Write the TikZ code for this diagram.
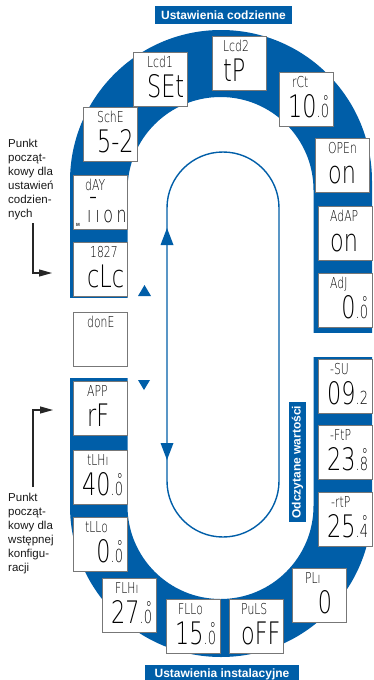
\documentclass[tikz,border=0pt]{standalone}
\usepackage{fontspec}
\newfontfamily\arial{Liberation Sans}
\newfontfamily\lcdfont{DejaVuSans-ExtraLight.ttf}[FakeStretch=0.72]
\usetikzlibrary{arrows.meta}
\definecolor{dblue}{HTML}{005EA8}
\definecolor{boxgray}{HTML}{777777}
\newcommand\lcdS{\lcdfont\fontsize{15}{15}\selectfont}
\newcommand\lcdB{\lcdfont\fontsize{31}{31}\selectfont}
\newcommand\lcdM{\lcdfont\fontsize{18}{18}\selectfont}
\newcommand\lcdnum[3]{{\lcdB #1}{\lcdM .#2\llap{\raisebox{9pt}{#3}}}}
\newcommand\lcdbox[5]{%
  \node[lcd] (#1) at (#2,#3) {};
  \node[lcdlab] (#1l) at ([shift={(#5,15)}]#1.north west) {#4};
}
\begin{document}
\begin{tikzpicture}[x=1pt,y=-1pt,
  lcd/.style={draw=boxgray, line width=1.2pt, fill=white, minimum width=54pt, minimum height=54pt, inner sep=0pt, anchor=north west},
  lcdlab/.style={font=\lcdS, inner sep=0pt, anchor=base west, text=black},
  lcdval/.style={font=\lcdB, inner sep=0pt, text=black},
  banner/.style={fill=dblue, text=white, font=\arial\bfseries\fontsize{12}{12}\selectfont, inner sep=0pt},
  sidelab/.style={font=\arial\fontsize{11.5}{14}\selectfont, align=left, inner sep=0pt, anchor=north west, text=black!90},
  pointer/.style={draw=black!85, line width=1.1pt, -{Triangle[length=13pt,width=7pt]}},
  track/.style={draw=dblue, line width=1.4pt}
]
\fill[white] (0,0) rectangle (373,680);
\useasboundingbox (0,0) rectangle (373,680);
% blue ring
\fill[dblue, even odd rule]
  (70,506) -- (70,181) arc[start angle=180,end angle=360,radius=151] -- (372,506) arc[start angle=0,end angle=180,radius=151] -- cycle
  (127.5,506) -- (127.5,190) arc[start angle=180,end angle=360,radius=93] -- (313.5,506) arc[start angle=0,end angle=180,radius=93] -- cycle;
\fill[white] (60,298) rectangle (136,378);
\fill[white] (305,333) rectangle (380,357);
% flow track
\draw[track] (167,481) -- (167,208) arc[start angle=180,end angle=360,radius=56] -- (279,481) arc[start angle=0,end angle=180,radius=56] -- cycle;
\fill[dblue] (160.5,245) -- (167,228) -- (173.5,245) -- cycle;
\fill[dblue] (160.5,443) -- (167,460) -- (173.5,443) -- cycle;
\fill[dblue] (138,296) -- (144.5,285) -- (151,296) -- cycle;
\fill[dblue] (138,380) -- (144,390) -- (150,380) -- cycle;
% banners
\node[banner, minimum width=137pt, minimum height=18pt] (t1) at (223.5,15) {Ustawienia codzienne};
\node[banner, minimum width=154pt, minimum height=19pt] (t2) at (222,674.5) {Ustawienia instalacyjne};
\node[banner, rotate=90, minimum width=120pt, minimum height=17pt] (t3) at (297.5,462) {Odczytane wartości};
% boxes
\lcdbox{b1}{133}{52}{Lcd1}{14}
\node[lcdval, anchor=base west] (b1v) at ([shift={(14,45)}]b1.north west) {SEt};
\lcdbox{b2}{212}{36}{Lcd2}{11}
\node[lcdval, anchor=base west] (b2v) at ([shift={(11,45)}]b2.north west) {tP};
\lcdbox{b3}{279}{72}{rCt}{13}
\node[lcdval, anchor=base east] (b3v) at ([shift={(-5,45)}]b3.north east) {\lcdnum{10}{0}{°}};
\lcdbox{b4}{315}{138}{OPEn}{13}
\node[lcdval, anchor=base west] (b4v) at ([shift={(13,45)}]b4.north west) {on};
\lcdbox{b5}{318}{206}{AdAP}{12}
\node[lcdval, anchor=base west] (b5v) at ([shift={(12,45)}]b5.north west) {on};
\lcdbox{b6}{318}{273}{AdJ}{12}
\node[lcdval, anchor=base east] (b6v) at ([shift={(-5,45)}]b6.north east) {\lcdnum{0}{0}{°}};
\lcdbox{b7}{318}{359}{-SU}{12}
\node[lcdval, anchor=base east] (b7v) at ([shift={(-5,45)}]b7.north east) {\lcdnum{09}{2}{}};
\lcdbox{b8}{318}{425}{-FtP}{12}
\node[lcdval, anchor=base east] (b8v) at ([shift={(-5,45)}]b8.north east) {\lcdnum{23}{8}{°}};
\lcdbox{b9}{318}{492}{-rtP}{13}
\node[lcdval, anchor=base east] (b9v) at ([shift={(-5,45)}]b9.north east) {\lcdnum{25}{4}{°}};
\lcdbox{b10}{292}{568}{PLı}{13}
\node[lcdval, anchor=base east] (b10v) at ([shift={(-15,45)}]b10.north east) {0};
\lcdbox{b11}{229}{599}{PuLS}{12}
\node[lcdval, anchor=base west] (b11v) at ([shift={(12,45)}]b11.north west) {oFF};
\lcdbox{b12}{166}{599}{FLLo}{12}
\node[lcdval, anchor=base east] (b12v) at ([shift={(-5,45)}]b12.north east) {\lcdnum{15}{0}{°}};
\lcdbox{b13}{102}{578}{FLHı}{13}
\node[lcdval, anchor=base east] (b13v) at ([shift={(-5,45)}]b13.north east) {\lcdnum{27}{0}{°}};
\lcdbox{b14}{73}{517}{tLLo}{12}
\node[lcdval, anchor=base east] (b14v) at ([shift={(-5,45)}]b14.north east) {\lcdnum{0}{0}{°}};
\lcdbox{b15}{73}{450}{tLHı}{14}
\node[lcdval, anchor=base east] (b15v) at ([shift={(-5,45)}]b15.north east) {\lcdnum{40}{0}{°}};
\lcdbox{b16}{73}{381}{APP}{14}
\node[lcdval, anchor=base west] (b16v) at ([shift={(14,45)}]b16.north west) {rF};
\lcdbox{b17}{73}{312}{donE}{14}
\lcdbox{b18}{73}{242}{1827}{17}
\node[lcdval, anchor=base west] (b18v) at ([shift={(14,45)}]b18.north west) {cLc};
\lcdbox{b19}{73}{175}{dAY}{12}
\node[lcdval, anchor=base west] (b19d) at ([shift={(16,31)}]b19.north west) {-};
\node[lcdval, font=\lcdfont\fontsize{22}{22}\selectfont, anchor=base west] (b19v) at ([shift={(14,47)}]b19.north west) {ı\,ı\,o\,n};
\node[font=\arial\bfseries\fontsize{4.5}{4.5}\selectfont, inner sep=0pt, anchor=base west, text=black!85] (b19m) at ([shift={(3,51)}]b19.north west) {M};
\lcdbox{b20}{83}{107}{SchE}{14}
\node[lcdval, anchor=base west] (b20v) at ([shift={(14,45)}]b20.north west) {5-2};
% side labels
\node[sidelab] (lab1) at (8,138.5) {Punkt\\począt-\\kowy dla\\ustawień\\codzien-\\nych};
\node[sidelab] (lab2) at (8,492.5) {Punkt\\począt-\\kowy dla\\wstępnej\\konfigu-\\racji};
\coordinate (p1s) at (33,223);
\coordinate (p1e) at (52,273);
\coordinate (p2s) at (33,487);
\coordinate (p2e) at (53,410);
\draw[pointer] (p1s) |- (p1e);
\draw[pointer] (p2s) |- (p2e);
\end{tikzpicture}
\end{document}
